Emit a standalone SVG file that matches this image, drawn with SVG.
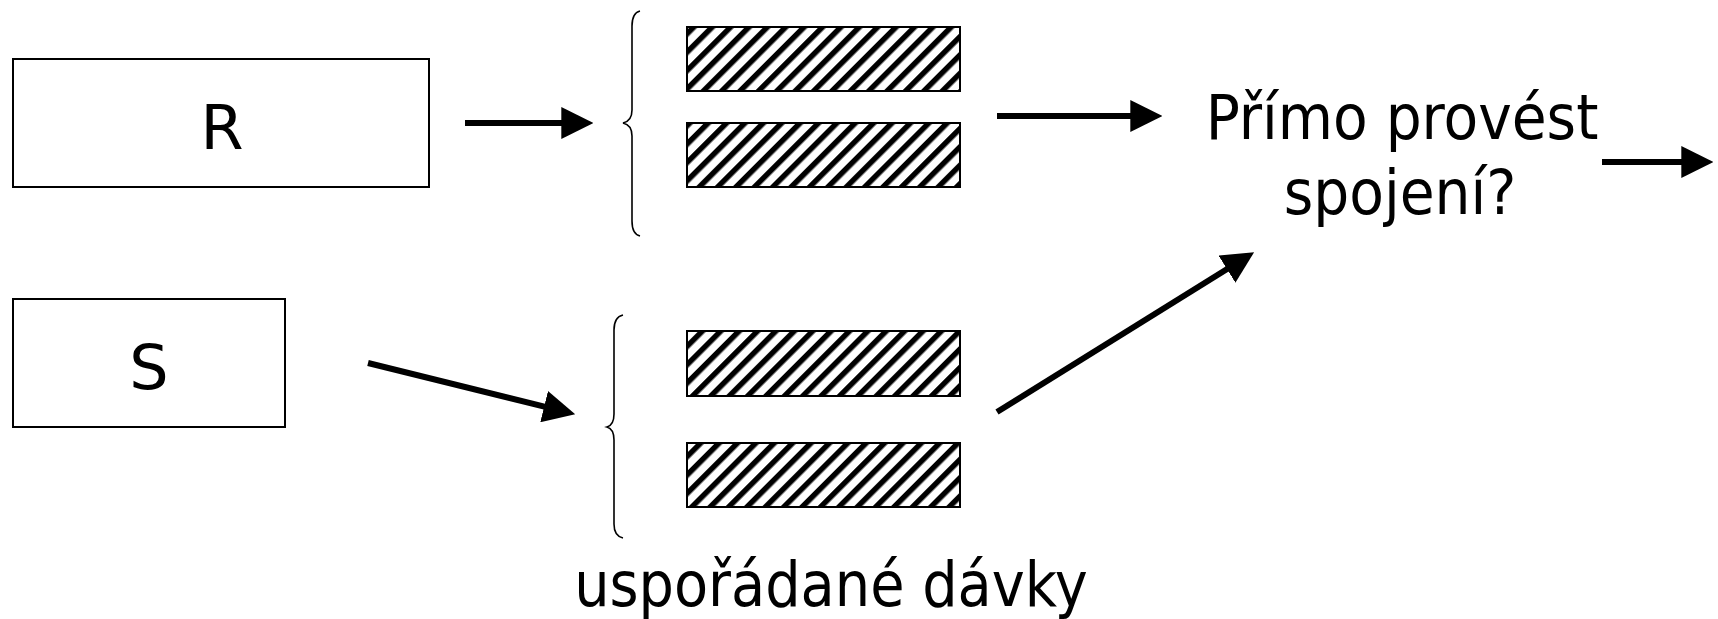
<svg xmlns="http://www.w3.org/2000/svg" width="1718" height="619" viewBox="0 0 1718 619">
<style>
.box{fill:#fff;stroke:#000;stroke-width:2}
.bar{fill:url(#hatch);stroke:#000;stroke-width:2}
.brace{fill:none;stroke:#000;stroke-width:1.6}
.lbl{font-family:"DejaVu Sans","Liberation Sans",sans-serif;font-size:62px;fill:#000;text-anchor:middle}
.txt{font-family:"DejaVu Sans Condensed","DejaVu Sans",sans-serif;font-size:63px;fill:#000;text-anchor:middle}
.conn{stroke:#000;stroke-width:6;fill:none;marker-end:url(#ah)}
</style>
<defs>
<pattern id="hatch" patternUnits="userSpaceOnUse" width="13" height="13" patternTransform="rotate(45)">
<rect x="0" y="0" width="13" height="13" fill="#fff"/>
<rect x="0" y="0" width="5.5" height="13" fill="#000"/>
</pattern>
<marker id="ah" markerUnits="userSpaceOnUse" markerWidth="32" markerHeight="32" viewBox="0 0 30 30" refX="10" refY="15" orient="auto">
<path d="M0,0 L30,15 L0,30 Z" fill="#000"/>
</marker>
</defs>
<g id="node-R">
<rect class="box" x="13" y="59" width="416" height="128"/>
<text class="lbl" x="222" y="149">R</text>
</g>
<g id="node-S">
<rect class="box" x="13" y="299" width="272" height="128"/>
<text class="lbl" x="149" y="389">S</text>
</g>
<g id="node-R-batches">
<path class="brace" d="M640,11 Q632,13 632,26 L632,110 Q632,121 623,123 Q632,125 632,136 L632,221 Q632,234 640,236"/>
<rect class="bar" x="687" y="27" width="273" height="64"/>
<rect class="bar" x="687" y="123" width="273" height="64"/>
</g>
<g id="node-S-batches">
<path class="brace" d="M623,315 Q614,317 614,330 L614,414 Q614,425 607,427 Q614,429 614,440 L614,524 Q614,536 623,538"/>
<rect class="bar" x="687" y="331" width="273" height="65"/>
<rect class="bar" x="687" y="443" width="273" height="64"/>
<text class="txt" x="831" y="606" style="font-size:62px">uspořádané dávky</text>
</g>
<g id="node-join">
<text class="txt" x="1402" y="139">Přímo provést</text>
<text class="txt" x="1400" y="214">spojení?</text>
</g>
<g id="connectors">
<line class="conn" x1="465" y1="123" x2="572" y2="123"/>
<line class="conn" x1="368" y1="363" x2="554.5" y2="409.2"/>
<line class="conn" x1="997" y1="116" x2="1141" y2="116"/>
<line class="conn" x1="997" y1="412" x2="1236" y2="263.5"/>
<line class="conn" x1="1602" y1="162" x2="1692" y2="162"/>
</g>
</svg>
